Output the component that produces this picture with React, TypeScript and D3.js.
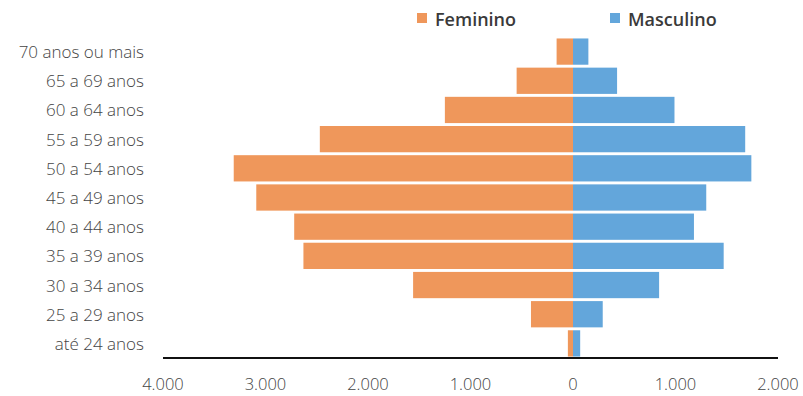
import React from "react";
import * as d3 from "d3";

const categories = [
  "70 anos ou mais",
  "65 a 69 anos",
  "60 a 64 anos",
  "55 a 59 anos",
  "50 a 54 anos",
  "45 a 49 anos",
  "40 a 44 anos",
  "35 a 39 anos",
  "30 a 34 anos",
  "25 a 29 anos",
  "até 24 anos",
];
const feminino = [160, 550, 1250, 2470, 3310, 3090, 2720, 2630, 1560, 410, 50];
const masculino = [150, 430, 990, 1680, 1740, 1300, 1180, 1470, 840, 290, 70];
const tickValues = [-4000, -3000, -2000, -1000, 0, 1000, 2000];
const seriesNames = ["Feminino", "Masculino"];

const W = 803;
const H = 396;
const ORANGE = "#EF975B";
const BLUE = "#63A6DB";

export default function App() {
  const x = d3.scaleLinear().domain([-4000, 2000]).range([163, 778]);
  const y = d3
    .scaleBand<string>()
    .domain(categories)
    .range([37, 358])
    .paddingInner(0.1)
    .paddingOuter(0.05);
  const fmt = (v: number) =>
    Math.abs(v) === 0 ? "0" : d3.format(",")(Math.abs(v)).replace(/,/g, ".");
  const font = "'Open Sans', 'Noto Sans', sans-serif";

  return (
    <svg
      width={W}
      height={H}
      style={{ position: "absolute", left: 0, top: 0, background: "#fff" }}
    >
      {categories.map((c, i) => (
        <g key={c}>
          <rect
            x={x(-feminino[i])}
            y={y(c)}
            width={x(0) - x(-feminino[i])}
            height={y.bandwidth()}
            fill={ORANGE}
          />
          <rect
            x={x(0)}
            y={y(c)}
            width={x(masculino[i]) - x(0)}
            height={y.bandwidth()}
            fill={BLUE}
          />
          <text
            x={144}
            y={(y(c) as number) + y.bandwidth() / 2}
            textAnchor="end"
            dominantBaseline="central"
            fontFamily={font}
            fontSize={17}
            fontWeight={300}
            fill="#444"
          >
            {c}
          </text>
        </g>
      ))}
      <line x1={163} x2={778} y1={358} y2={358} stroke="#111" strokeWidth={2} />
      {tickValues.map((t) => (
        <text
          key={t}
          x={x(t)}
          y={383}
          textAnchor="middle"
          dominantBaseline="central"
          fontFamily={font}
          fontSize={16.5}
          fontWeight={300}
          fill="#444"
        >
          {fmt(t)}
        </text>
      ))}
      {seriesNames.map((s, i) => {
        const lx = i === 0 ? 417 : 610;
        return (
          <g key={s}>
            <rect x={lx} y={13} width={10} height={10} fill={i === 0 ? ORANGE : BLUE} />
            <text
              x={lx + 18}
              y={18.5}
              dominantBaseline="central"
              fontFamily={font}
              fontSize={18}
              fontWeight={600}
              fill="#3a3a3a"
            >
              {s}
            </text>
          </g>
        );
      })}
    </svg>
  );
}
